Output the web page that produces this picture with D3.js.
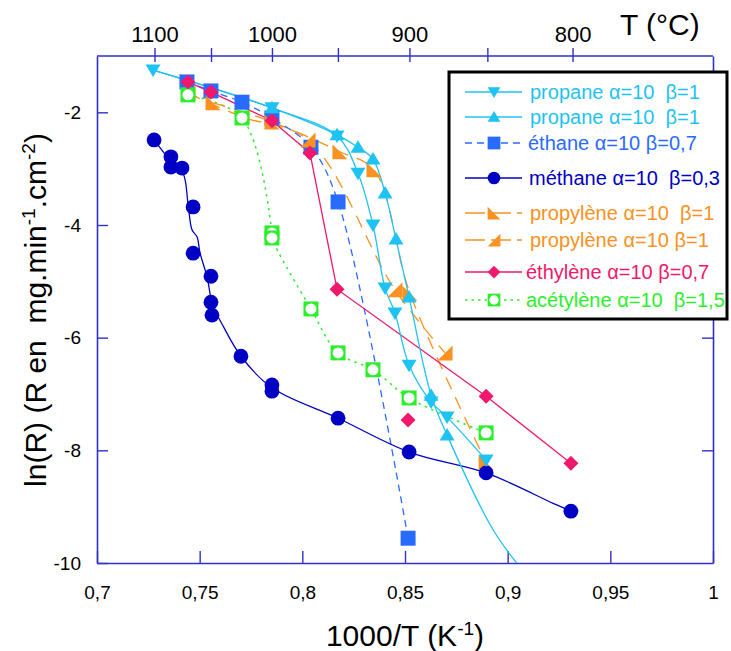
<!DOCTYPE html>
<html><head><meta charset="utf-8">
<script src="https://cdn.jsdelivr.net/npm/d3@7"></script>
<style>body{margin:0;background:#fff}svg{display:block;font-family:Arial,"Liberation Sans",sans-serif}</style>
</head><body><svg id="chart" width="731" height="651"></svg>
<script>
// ---------- data ----------
const xDomain = [0.7, 1.0];
const yDomain = [-10, -1];
const xTicks = [0.7, 0.75, 0.8, 0.85, 0.9, 0.95, 1];
const xTickLabels = ["0,7", "0,75", "0,8", "0,85", "0,9", "0,95", "1"];
const yTicks = [-2, -4, -6, -8, -10];
const yTickLabels = ["-2", "-4", "-6", "-8", "-10"];
const tempTicksC = [1100, 1050, 1000, 950, 900, 850, 800];
const tempLabelsC = [1100, 1000, 900, 800];

// propane (triangle down)
const propaneDown = [[0.7273,-1.25],[0.7852,-1.92],[0.8169,-2.42],[0.8271,-3.08],[0.8344,-4.00],[0.8403,-5.12],[0.8451,-5.56],[0.8520,-6.49],[0.8627,-7.14],[0.8705,-7.41],[0.8895,-8.17]];
// propane (triangle up)
const propaneUp = [[0.7852,-1.92],[0.8169,-2.40],[0.8271,-2.62],[0.8344,-2.83],[0.8403,-3.43],[0.8456,-4.25],[0.8520,-5.28],[0.8627,-7.02],[0.8705,-7.73]];
const propaneUpCurve = [[0.7273,-1.25],[0.7852,-1.92],[0.8169,-2.40],[0.8271,-2.62],[0.8344,-2.83],[0.8403,-3.43],[0.8456,-4.25],[0.8520,-5.28],[0.8627,-7.02],[0.8705,-7.73],[0.8929,-9.41],[0.9055,-10.05]];
// éthane
const ethane = [[0.7438,-1.46],[0.7555,-1.62],[0.7706,-1.82],[0.7852,-2.10],[0.8042,-2.62],[0.8174,-3.59],[0.8515,-9.56]];
// méthane
const methane = [[0.7278,-2.49],[0.7360,-2.79],[0.7360,-2.97],[0.7414,-2.99],[0.7468,-3.68],[0.7468,-4.50],[0.7555,-4.91],[0.7555,-5.37],[0.7560,-5.60],[0.7701,-6.33],[0.7852,-6.84],[0.7852,-6.95],[0.8174,-7.43],[0.8520,-8.03],[0.8895,-8.40],[0.9308,-9.08]];
const methaneCurve = [[0.7278,-2.49],[0.7356,-2.85],[0.7419,-3.08],[0.7443,-3.61],[0.7463,-4.09],[0.7487,-4.21],[0.7502,-4.50],[0.7536,-4.92],[0.7565,-5.46],[0.7599,-5.69],[0.7701,-6.33],[0.7852,-6.89],[0.8174,-7.43],[0.8520,-8.03],[0.8895,-8.40],[0.9221,-8.94],[0.9308,-9.08]];
// propylène (two runs)
const propyleneA = [[0.7565,-1.83],[0.7852,-2.17],[0.8183,-2.70],[0.8349,-3.02],[0.8524,-5.21],[0.8895,-8.21]];
const propyleneB = [[0.7443,-1.66],[0.7706,-2.08],[0.8028,-2.49],[0.8451,-5.15],[0.8695,-6.27]];
// éthylène
const ethylene = [[0.7443,-1.46],[0.7555,-1.64],[0.7852,-2.15],[0.8037,-2.72],[0.8169,-5.14],[0.8895,-7.04],[0.9308,-8.23]];
const ethyleneExtra = [[0.8515,-7.46]];
// acétylène
const acetylene = [[0.7443,-1.69],[0.7706,-2.10],[0.7852,-4.14],[0.7852,-4.23],[0.8042,-5.49],[0.8174,-6.27],[0.8344,-6.57],[0.8520,-7.07],[0.8895,-7.69]];

const legendLabels = [
  {name:"propane", a:"10", b:"1", gap:"  "},
  {name:"propane", a:"10", b:"1", gap:"  "},
  {name:"éthane", a:"10", b:"0,7", gap:" "},
  {name:"méthane", a:"10", b:"0,3", gap:"  "},
  {name:"propylène", a:"10", b:"1", gap:"  "},
  {name:"propylène", a:"10", b:"1", gap:" "},
  {name:"éthylène", a:"10", b:"0,7", gap:" "},
  {name:"acétylène", a:"10", b:"1,5", gap:"  "}
];

// ---------- styles ----------
const C = {
  propane:"#1ec3f2", ethane:"#2a6bff", methane:"#0000c4",
  propylene:"#fa9120", ethylene:"#f0186c", acetylene:"#2bef2b", axis:"#3030cc"
};

const W = 731, H = 651;
const M = {left:97, right:713, top:56, bottom:563};
const svg = d3.select("#chart");
const x = d3.scaleLinear().domain(xDomain).range([M.left, M.right]);
const y = d3.scaleLinear().domain(yDomain).range([M.bottom, M.top]);

svg.append("defs").append("clipPath").attr("id","clip")
  .append("rect").attr("x",M.left).attr("y",M.top).attr("width",M.right-M.left).attr("height",M.bottom-M.top);

// ---------- axes ----------
const ax = svg.append("g");
const gB = ax.append("g").attr("transform",`translate(0,${M.bottom})`)
  .call(d3.axisBottom(x).tickValues(xTicks).tickSizeInner(-12).tickSizeOuter(0).tickPadding(23)
    .tickFormat((d,i)=>xTickLabels[i]));
const gL = ax.append("g").attr("transform",`translate(${M.left},0)`)
  .call(d3.axisLeft(y).tickValues(yTicks).tickSizeInner(-11).tickSizeOuter(0).tickPadding(16)
    .tickFormat((d,i)=>yTickLabels[i]));
const gR = ax.append("g").attr("transform",`translate(${M.right},0)`)
  .call(d3.axisRight(y).tickValues(yTicks.slice(0,4)).tickSizeInner(-11).tickSizeOuter(0).tickFormat(""));
// top axis in °C
const xT = c => x(1000/(c+273.15));
const gT = ax.append("g").attr("transform",`translate(0,${M.top})`);
gT.append("line").attr("x1",M.left).attr("x2",M.right).attr("y1",0).attr("y2",0);
gT.selectAll("line.t").data(tempTicksC).join("line").attr("class","t")
  .attr("x1",d=>xT(d)).attr("x2",d=>xT(d)).attr("y1",-8).attr("y2",6);
gT.selectAll("text").data(tempLabelsC).join("text")
  .attr("x",d=>xT(d)).attr("y",-14).attr("text-anchor","middle")
  .attr("font-size",22).attr("fill","#000").text(d=>d);

[gB,gL,gR].forEach(g=>{
  g.select(".domain").attr("stroke",C.axis).attr("stroke-width",1.6);
  g.selectAll(".tick line").attr("stroke",C.axis).attr("stroke-width",1.4);
  g.selectAll(".tick text").attr("fill","#000").attr("font-size",19).attr("font-family","Arial, 'Liberation Sans', sans-serif");
});
gT.selectAll("line").attr("stroke",C.axis).attr("stroke-width",1.4);

// titles
svg.append("text").attr("x",620).attr("y",35).attr("font-size",30).attr("fill","#000").text("T (°C)");
const bt = svg.append("text").attr("x",405).attr("y",646).attr("text-anchor","middle").attr("font-size",30).attr("fill","#000");
bt.append("tspan").text("1000/T (K");
bt.append("tspan").attr("dy",-11).attr("font-size",19).text("-1");
bt.append("tspan").attr("dy",11).text(")");
const lt = svg.append("text").attr("transform","translate(46,310) rotate(-90)").attr("text-anchor","middle")
  .attr("font-size",30).attr("fill","#000").attr("xml:space","preserve").style("white-space","pre");
lt.append("tspan").text("ln(R) (R en  mg.min");
lt.append("tspan").attr("dy",-11).attr("font-size",19).text("-1");
lt.append("tspan").attr("dy",11).text(".cm");
lt.append("tspan").attr("dy",-11).attr("font-size",19).text("-2");
lt.append("tspan").attr("dy",11).text(")");

// ---------- symbols ----------
const S = 7.5;
const shapes = {
  down: `M${-S},${-5.5}L${S},${-5.5}L0,7Z`,
  up: `M${-S},${5.5}L${S},${5.5}L0,-7Z`,
  square: `M${-S},${-S}h${2*S}v${2*S}h${-2*S}Z`,
  diamond: `M0,-7.5L7.5,0L0,7.5L-7.5,0Z`,
  triA: `M${-S},${-S}L${-S},${S}L${S},${S}Z`,
  triB: `M${S},${-S}L${S},${S}L${-S},${S}Z`
};
function drawMarker(g, type, cx, cy, color, k=1){
  const t = `translate(${cx},${cy}) scale(${k})`;
  if(type==="circle"){ g.append("circle").attr("cx",cx).attr("cy",cy).attr("r",7.4*k).attr("fill",color); return; }
  if(type==="hollow"){
    g.append("path").attr("d",shapes.square).attr("transform",t).attr("fill",color);
    g.append("circle").attr("cx",cx).attr("cy",cy).attr("r",5.5*k).attr("fill","#fff");
    return;
  }
  g.append("path").attr("d",shapes[type]).attr("transform",t).attr("fill",color);
}

// ---------- lines ----------
const plot = svg.append("g").attr("clip-path","url(#clip)");
const lineSmooth = d3.line().x(d=>x(d[0])).y(d=>y(d[1])).curve(d3.curveCatmullRom.alpha(0.5));
const lineStraight = d3.line().x(d=>x(d[0])).y(d=>y(d[1]));
function path(data, color, gen, dash, w=1.3){
  plot.append("path").datum(data).attr("d",gen).attr("fill","none").attr("stroke",color)
    .attr("stroke-width",w).attr("stroke-dasharray",dash||null);
}
path(acetylene, C.acetylene, lineSmooth, "2.5,4.5", 1.5);
path(propyleneA, C.propylene, lineSmooth, "13,9");
path(propyleneB, C.propylene, lineSmooth, "13,9");
path(ethane, C.ethane, lineSmooth, "7,5");
path(methaneCurve, C.methane, lineSmooth, null);
path(ethylene, C.ethylene, lineStraight, null);
path(propaneDown, C.propane, lineSmooth, null);
path(propaneUpCurve, C.propane, lineSmooth, null);

// ---------- markers ----------
const mk = svg.append("g");
ethane.forEach(d=>drawMarker(mk,"square",x(d[0]),y(d[1]),C.ethane));
propyleneA.forEach(d=>drawMarker(mk,"triA",x(d[0]),y(d[1]),C.propylene));
propyleneB.forEach(d=>drawMarker(mk,"triB",x(d[0]),y(d[1]),C.propylene));
acetylene.forEach(d=>drawMarker(mk,"hollow",x(d[0]),y(d[1]),C.acetylene));
methane.forEach(d=>drawMarker(mk,"circle",x(d[0]),y(d[1]),C.methane));
propaneUp.forEach(d=>drawMarker(mk,"up",x(d[0]),y(d[1]),C.propane));
propaneDown.forEach(d=>drawMarker(mk,"down",x(d[0]),y(d[1]),C.propane));
ethylene.concat(ethyleneExtra).forEach(d=>drawMarker(mk,"diamond",x(d[0]),y(d[1]),C.ethylene));

// ---------- legend ----------
const lg = svg.append("g");
lg.append("rect").attr("x",449).attr("y",72).attr("width",278).attr("height",247)
  .attr("fill","#fff").attr("stroke","#000").attr("stroke-width",3);
const legendRows = [
  {y:92,  color:C.propane, type:"down", dash:null, tx:530},
  {y:117, color:C.propane, type:"up", dash:null, tx:530},
  {y:143, color:C.ethane, type:"square", dash:"7,5", tx:528},
  {y:178, color:C.methane, type:"circle", dash:null, tx:529},
  {y:213, color:C.propylene, type:"triA", dash:"20,6", tx:530},
  {y:240, color:C.propylene, type:"triB", dash:"20,6", tx:530},
  {y:272, color:C.ethylene, type:"diamond", dash:null, tx:526},
  {y:300, color:C.acetylene, type:"hollow", dash:"2.5,4", tx:526}
];
legendRows.forEach((r,i)=>{
  lg.append("line").attr("x1",465).attr("x2",522).attr("y1",r.y).attr("y2",r.y)
    .attr("stroke",r.color).attr("stroke-width",1.3).attr("stroke-dasharray",r.dash);
  drawMarker(lg, r.type, 494, r.y, r.color, 0.85);
  const L = legendLabels[i];
  lg.append("text").attr("x",r.tx).attr("y",r.y+7).attr("font-size",20).attr("fill",r.color)
    .attr("xml:space","preserve").style("white-space","pre")
    .text(`${L.name} α=${L.a}${L.gap}β=${L.b}`);
});
</script></body></html>
